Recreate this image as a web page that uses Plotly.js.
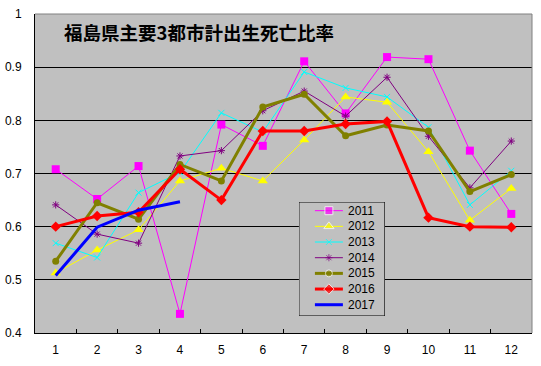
<!DOCTYPE html>
<html><head><meta charset="utf-8">
<script src="https://cdn.plot.ly/plotly-3.0.1.min.js"></script>
<style>body{margin:0;background:#fff}#c{width:541px;height:366px}</style>
</head><body><div id="c"></div>
<script>
const months = ["1","2","3","4","5","6","7","8","9","10","11","12"];
const y2011 = [0.708,0.652,0.714,0.436,0.792,0.752,0.911,0.813,0.919,0.915,0.743,0.624];
const y2012 = [0.513,0.556,0.594,0.686,0.710,0.686,0.763,0.844,0.834,0.741,0.612,0.672];
const y2013 = [0.569,0.542,0.664,0.702,0.814,0.778,0.891,0.861,0.844,0.787,0.641,0.705];
const y2014 = [0.641,0.586,0.569,0.733,0.743,0.818,0.855,0.808,0.881,0.770,0.673,0.761];
const y2015 = [0.535,0.645,0.614,0.717,0.686,0.825,0.849,0.771,0.791,0.780,0.666,0.698];
const y2016 = [0.600,0.620,0.627,0.708,0.650,0.780,0.780,0.793,0.798,0.617,0.600,0.599];
const y2017 = [0.508,0.599,0.631,0.647];
const seriesNames = ["2011","2012","2013","2014","2015","2016","2017"];
const titleText = "福島県主要3都市計出生死亡比率";

const styles = [
  {c:"#FF00FF", w:1, m:{symbol:"square", size:8}},
  {c:"#FFFF00", w:1, m:{symbol:"triangle-up", size:9}},
  {c:"#00FFFF", w:1, m:{symbol:"x-thin-open", size:6, line:{width:1,color:"#00FFFF"}}},
  {c:"#800080", w:1, m:{symbol:"asterisk-open", size:6, line:{width:1,color:"#800080"}}},
  {c:"#808000", w:3, m:{symbol:"circle", size:7}},
  {c:"#FF0000", w:3, m:{symbol:"diamond", size:8}},
  {c:"#0000FF", w:3, m:null}
];
const ys = [y2011,y2012,y2013,y2014,y2015,y2016,y2017];
const traces = ys.map((y,i)=>{
  const s = styles[i];
  const t = {type:"scatter", x: months.slice(0,y.length), y:y, name:seriesNames[i],
    mode: s.m ? "lines+markers" : "lines", showlegend:false,
    line:{color:s.c, width:s.w}};
  if (s.m) t.marker = Object.assign({color:s.c}, s.m);
  return t;
});

// custom legend drawn on an overlay axis measured in pixels of the legend box
const legTop = 210.7, legStep = 15.67;
const legendAnn = [];
styles.forEach((s,i)=>{
  const row = legTop + legStep*i;
  const t = {type:"scatter", xaxis:"x2", yaxis:"y2", x:[315,329,343], y:[row,row,row],
    mode: s.m ? "lines+markers" : "lines", showlegend:false, hoverinfo:"skip",
    line:{color:s.c, width:s.w}};
  if (s.m) t.marker = Object.assign({color:s.c}, s.m, {size:[0,s.m.size,0]});
  traces.push(t);
  legendAnn.push({text:seriesNames[i], xref:"x2", yref:"y2", x:346, y:row, xanchor:"left", yanchor:"middle",
    showarrow:false, font:{size:12, family:"Liberation Sans, Arial, sans-serif", color:"#000"}});
});

const layout = {
  width:541, height:366,
  margin:{l:35, r:9, t:14, b:33},
  paper_bgcolor:"#FFFFFF", plot_bgcolor:"#C0C0C0",
  font:{family:"Liberation Sans, Arial, sans-serif", size:12, color:"#000"},
  showlegend:false,
  xaxis:{type:"category", range:[-0.5,11.5], tickson:"boundaries", ticks:"inside", ticklen:4, tickcolor:"#000",
    showgrid:false, showline:true, linecolor:"#000", linewidth:1, zeroline:false,
    tickfont:{size:12}, ticklabelstandoff:6},
  yaxis:{range:[0.4,1.0], dtick:0.1, tick0:0.4, ticks:"", showgrid:true, gridcolor:"#000", gridwidth:1,
    showline:true, linecolor:"#000", linewidth:1, zeroline:false, tickfont:{size:12},
    ticklabelstandoff:10},
  xaxis2:{domain:[0.531,0.704], range:[299,385], visible:false, anchor:"y2"},
  yaxis2:{domain:[0.0533,0.4107], range:[316,202], visible:false, anchor:"x2"},
  shapes:[
    {type:"line", xref:"paper", yref:"paper", x0:0, x1:1, y0:1, y1:1, line:{color:"#808080", width:1}},
    {type:"line", xref:"paper", yref:"paper", x0:1, x1:1, y0:0, y1:1, line:{color:"#808080", width:1}},
    {type:"rect", xref:"x2", yref:"y2", x0:299, x1:385, y0:202, y1:316, layer:"below",
      fillcolor:"#C0C0C0", line:{color:"#000", width:1}}
  ],
  annotations:[{text:"<b>"+titleText+"</b>", xref:"paper", yref:"paper", x:0.055, y:0.945,
    xanchor:"left", yanchor:"middle", showarrow:false,
    font:{family:"Noto Sans CJK JP", size:18.5, color:"#000"}}].concat(legendAnn)
};
Plotly.newPlot("c", traces, layout, {displayModeBar:false, staticPlot:true});
</script></body></html>
